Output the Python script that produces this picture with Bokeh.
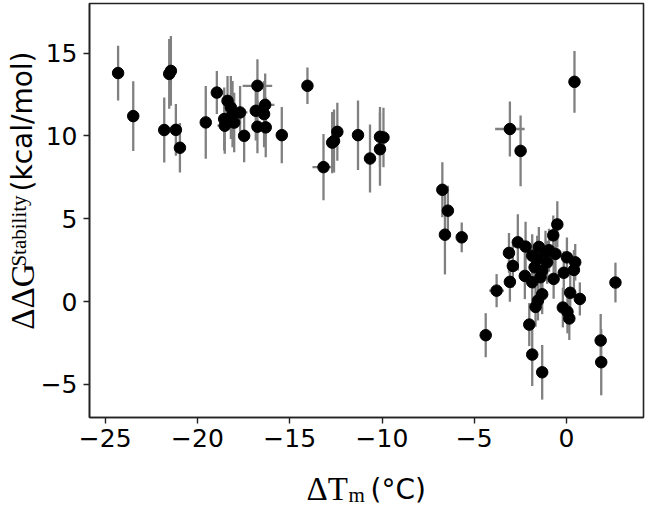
import numpy as np
from bokeh.plotting import figure
from bokeh.models import (Label, Range1d, FixedTicker, ColumnDataSource,
                          BoxAnnotation, LinearAxis)
from bokeh.embed import file_html
from bokeh.resources import INLINE

# Melting temperature change (°C)
dtm = [
    -24.3, -23.48, -21.53, -21.44, -21.8, -21.17, -20.95, -19.55,
    -18.95, -18.37, -18.55, -18.52, -18.19, -18.01, -18.1, -17.69, -17.47,
    -16.75, -16.84, -16.33, -16.39, -16.75, -16.3, -15.43, -14.04,
    -13.17, -12.7, -12.6, -12.42, -11.3, -10.65, -10.11, -10.11, -9.92,
    -6.73, -6.43, -6.59, -5.68, -3.07, -2.49, 0.43,
    -3.79, -3.12, -3.07, -2.91, -2.64, -2.22, -2.26, -1.86, -1.86, -1.73,
    -1.59, -1.32, -1.14, -1.05, -1.41, -0.7, -0.72, -0.5, -0.6, 0.02,
    0.47, 0.4, -0.15, 2.65, 0.2, 0.72, -0.2, 0.05, 0.15, -1.32, -1.55,
    -1.68, -2.02, -1.86, -1.32, -4.38, 1.85, 1.88, -1.5, -0.95,
]
# Stability free-energy change (kcal/mol)
ddg = [
    13.8, 11.2, 13.75, 13.93, 10.36, 10.37, 9.29, 10.82,
    12.62, 12.12, 11.02, 10.62, 11.72, 10.81, 11.32, 11.42, 10.01,
    13.03, 11.52, 11.88, 11.32, 10.56, 10.52, 10.05, 13.03,
    8.12, 9.6, 9.7, 10.25, 10.05, 8.64, 9.2, 9.95, 9.91,
    6.75, 5.49, 4.04, 3.88, 10.42, 9.1, 13.27,
    0.66, 2.94, 1.19, 2.15, 3.58, 3.32, 1.55, 1.17, 2.77, 2.07,
    2.57, 1.87, 2.97, 2.37, 1.47, 1.37, 4.0, 4.66, 2.88, 2.67,
    2.37, 1.91, 1.74, 1.15, 0.53, 0.16, -0.36, -0.62, -1.02, 0.44, 0.06,
    -0.32, -1.39, -3.2, -4.27, -2.03, -2.35, -3.66, 3.3, 3.1,
]
ddg_err = [
    1.65, 2.1, 2.1, 2.1, 1.96, 1.56, 1.5, 2.2,
    1.3, 1.5, 1.9, 1.7, 1.9, 1.8, 2.0, 1.6, 1.6,
    1.6, 1.8, 1.9, 2.0, 1.6, 1.8, 1.7, 1.1,
    2.0, 1.85, 1.9, 1.75, 2.1, 2.05, 2.2, 1.8, 1.8,
    1.66, 1.5, 2.4, 0.9, 1.66, 2.14, 1.86,
    1.0, 1.2, 1.2, 1.3, 1.7, 1.5, 1.4, 1.4, 1.3, 1.3,
    1.4, 1.3, 1.3, 1.3, 1.3, 1.2, 1.2, 1.4, 1.3, 1.2,
    1.1, 1.2, 1.3, 1.2, 1.1, 1.0, 1.2, 1.3, 1.3, 1.2, 1.2,
    1.2, 1.3, 1.9, 1.65, 1.33, 1.6, 2.0, 1.2, 1.3,
]
dtm_err = [
    0.1, 0.1, 0.1, 0.1, 0.1, 0.1, 0.1, 0.1,
    0.1, 0.1, 0.1, 0.4, 0.1, 0.1, 0.1, 0.4, 0.1,
    0.8, 0.1, 0.5, 0.1, 0.1, 0.1, 0.1, 0.1,
    0.6, 0.1, 0.1, 0.1, 0.1, 0.1, 0.1, 0.1, 0.1,
    0.1, 0.1, 0.1, 0.1, 0.8, 0.1, 0.1,
    0.4, 0.2, 0.1, 0.1, 0.1, 0.1, 0.1, 0.1, 0.1, 0.1,
    0.1, 0.1, 0.1, 0.1, 0.1, 0.1, 0.1, 0.1, 0.1, 0.1,
    0.1, 0.1, 0.1, 0.1, 0.1, 0.1, 0.1, 0.1, 0.1, 0.1, 0.1,
    0.1, 0.1, 0.1, 0.1, 0.1, 0.1, 0.1, 0.1, 0.1,
]

x_ticks = [-25, -20, -15, -10, -5, 0]
y_ticks = [-5, 0, 5, 10, 15]

# axes box limits (data units)
X_MIN, X_MAX = -25.85, 4.17
Y_MIN, Y_MAX = -7.0, 18.0

W, H = 646, 508
BOX_L, BOX_R, BOX_T, BOX_B = 89, 643, 3, 417   # axes box in pixels
kx = (X_MAX - X_MIN) / (BOX_R - BOX_L)
ky = (Y_MAX - Y_MIN) / (BOX_B - BOX_T)

x = np.array(dtm)
y = np.array(ddg)
ye = np.array(ddg_err)
xe = np.array(dtm_err)

src = ColumnDataSource(dict(
    x=x, y=y,
    ylo=y - ye, yhi=y + ye,
    xlo=x - xe, xhi=x + xe,
))

# the plotting frame fills the canvas; the axes are pinned to the box edges
p = figure(width=W, height=H, output_backend="svg", toolbar_location=None,
           x_range=Range1d(X_MIN - BOX_L * kx, X_MAX + (W - BOX_R) * kx),
           y_range=Range1d(Y_MIN - (H - BOX_B) * ky, Y_MAX + BOX_T * ky),
           min_border=0)
p.title.visible = False

p.segment(x0="x", x1="x", y0="ylo", y1="yhi", source=src,
          line_color="#808080", line_width=2.3)
p.segment(x0="xlo", x1="xhi", y0="y", y1="y", source=src,
          line_color="#808080", line_width=2.3)
p.scatter(x="x", y="y", source=src, size=11.5, fill_color="black",
          line_color="black", marker="circle")

p.grid.visible = False
p.outline_line_color = None
p.background_fill_color = "white"
p.border_fill_color = "white"

p.add_layout(BoxAnnotation(left=X_MIN, right=X_MAX, bottom=Y_MIN, top=Y_MAX,
                           fill_alpha=0, line_color="#222222", line_alpha=1.0,
                           line_width=1.6, level="underlay"))

p.xaxis.fixed_location = Y_MIN
p.yaxis.fixed_location = X_MIN
p.xaxis.bounds = (X_MIN, X_MAX)
p.yaxis.bounds = (Y_MIN, Y_MAX)

for ax, ticks in ((p.xaxis, x_ticks), (p.yaxis, y_ticks)):
    ax.ticker = FixedTicker(ticks=ticks)
    ax.minor_tick_line_color = None
    ax.major_tick_out = 6
    ax.major_tick_in = 0
    ax.major_tick_line_color = "#222222"
    ax.major_tick_line_width = 1.4
    ax.axis_line_color = "#222222"
    ax.axis_line_width = 1.6
    ax.major_label_text_font = "DejaVu Sans"
    ax.major_label_text_font_size = "25px"
    ax.major_label_text_color = "black"
p.xaxis.major_label_standoff = 5
p.yaxis.major_label_standoff = 6


def ypx(ry):
    # picture row -> data y
    return Y_MAX - (ry - BOX_T) * ky


def ylabel_piece(text, ry_start, length, standoff, size, font):
    # a label-only axis pinned to the left box edge, centred on one piece
    c = ypx(ry_start - length / 2)
    ax = LinearAxis(fixed_location=X_MIN, bounds=(c - 0.01, c + 0.01),
                    ticker=FixedTicker(ticks=[]), axis_line_color=None,
                    major_tick_line_color=None, minor_tick_line_color=None,
                    major_label_text_font_size="0px",
                    axis_label=text, axis_label_text_font=font,
                    axis_label_text_font_size=f"{size}px",
                    axis_label_text_font_style="normal",
                    axis_label_text_color="black",
                    axis_label_standoff=standoff, axis_label_align="center")
    p.add_layout(ax, "left")


ylabel_piece("ΔΔG", 328, 64, 49, 33, "Liberation Serif")
ylabel_piece("Stability", 266, 71, 59, 21, "Liberation Serif")
ylabel_piece("(kcal/mol)", 191, 140, 51, 28, "DejaVu Sans")


def lab(text, rx, ry, size, font):
    # rx, ry: pixel place in the picture (from its top-left corner)
    return Label(x=rx, y=H - ry, x_units="screen", y_units="screen",
                 text=text, text_font=font, text_font_size=f"{size}px",
                 text_baseline="alphabetic", text_align="left",
                 text_color="black")


p.add_layout(lab("ΔT", 306, 488, 33, "Liberation Serif"))
p.add_layout(lab("m", 348, 494, 21, "Liberation Serif"))
p.add_layout(lab("(°C)", 370, 489, 28, "DejaVu Sans"))

open("out.html", "w").write(file_html(p, INLINE))
